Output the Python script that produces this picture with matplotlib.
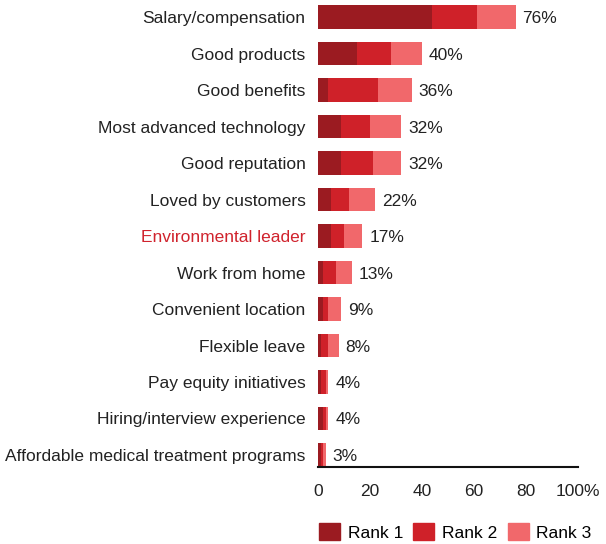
import matplotlib.pyplot as plt
from matplotlib.patches import Patch

plt.rcParams['font.family'] = ['Liberation Sans', 'DejaVu Sans']

reasons = ["Salary/compensation", "Good products", "Good benefits",
           "Most advanced technology", "Good reputation", "Loved by customers",
           "Environmental leader", "Work from home", "Convenient location",
           "Flexible leave", "Pay equity initiatives", "Hiring/interview experience",
           "Affordable medical treatment programs"]
rank1 = [44, 15, 4, 9, 9, 5, 5, 2, 2, 1, 1, 2, 1]
rank2 = [17, 13, 19, 11, 12, 7, 5, 5, 2, 3, 2, 1, 1]
rank3 = [15, 12, 13, 12, 11, 10, 7, 6, 5, 4, 1, 1, 1]
totals = [76, 40, 36, 32, 32, 22, 17, 13, 9, 8, 4, 4, 3]
highlight = "Environmental leader"

colors = ['#9b1b21', '#cf2129', '#f1686b']
fs = 12.5

fig = plt.figure(figsize=(6.06, 5.44), dpi=100)
ax = fig.add_axes([318 / 606, 1 - 467 / 544, 260 / 606, 467 / 544])

ypos = list(range(len(reasons)))
left = [0] * len(reasons)
for vals, c in zip([rank1, rank2, rank3], colors):
    ax.barh(ypos, vals, left=left, height=0.65, color=c)
    left = [l + v for l, v in zip(left, vals)]

# total label just right of each stacked bar
for y, x, t in zip(ypos, left, totals):
    ax.annotate(f"{t}%", (x, y), xytext=(5, 0), textcoords='offset points',
                va='center_baseline', ha='left', fontsize=fs, color='#222222')

ax.set_ylim(12.33, -0.47)
ax.set_xlim(0, 100)
ax.set_yticks(ypos)
ax.set_yticklabels(reasons, fontsize=fs, color='#222222')
for lbl in ax.get_yticklabels():
    if lbl.get_text() == highlight:
        lbl.set_color('#d0232d')
ax.set_xticks([0, 20, 40, 60, 80, 100])
ax.set_xticklabels(['0', '20', '40', '60', '80', '100%'], fontsize=fs, color='#222222')
ax.tick_params(axis='y', length=0, pad=9)
ax.tick_params(axis='x', length=0, pad=12)
for s in ['top', 'right', 'left']:
    ax.spines[s].set_visible(False)
ax.spines['bottom'].set_linewidth(1.5)
ax.spines['bottom'].set_color('#111111')

handles = [Patch(color=c) for c in colors]
fig.legend(handles, ['Rank 1', 'Rank 2', 'Rank 3'], ncol=3, frameon=False,
           loc='center left', bbox_to_anchor=(312 / 606, 1 - 532 / 544),
           fontsize=fs, handlelength=1.2, handleheight=1.15,
           handletextpad=0.45, columnspacing=0.6, borderaxespad=0)

fig.savefig('out.png', dpi=100)
